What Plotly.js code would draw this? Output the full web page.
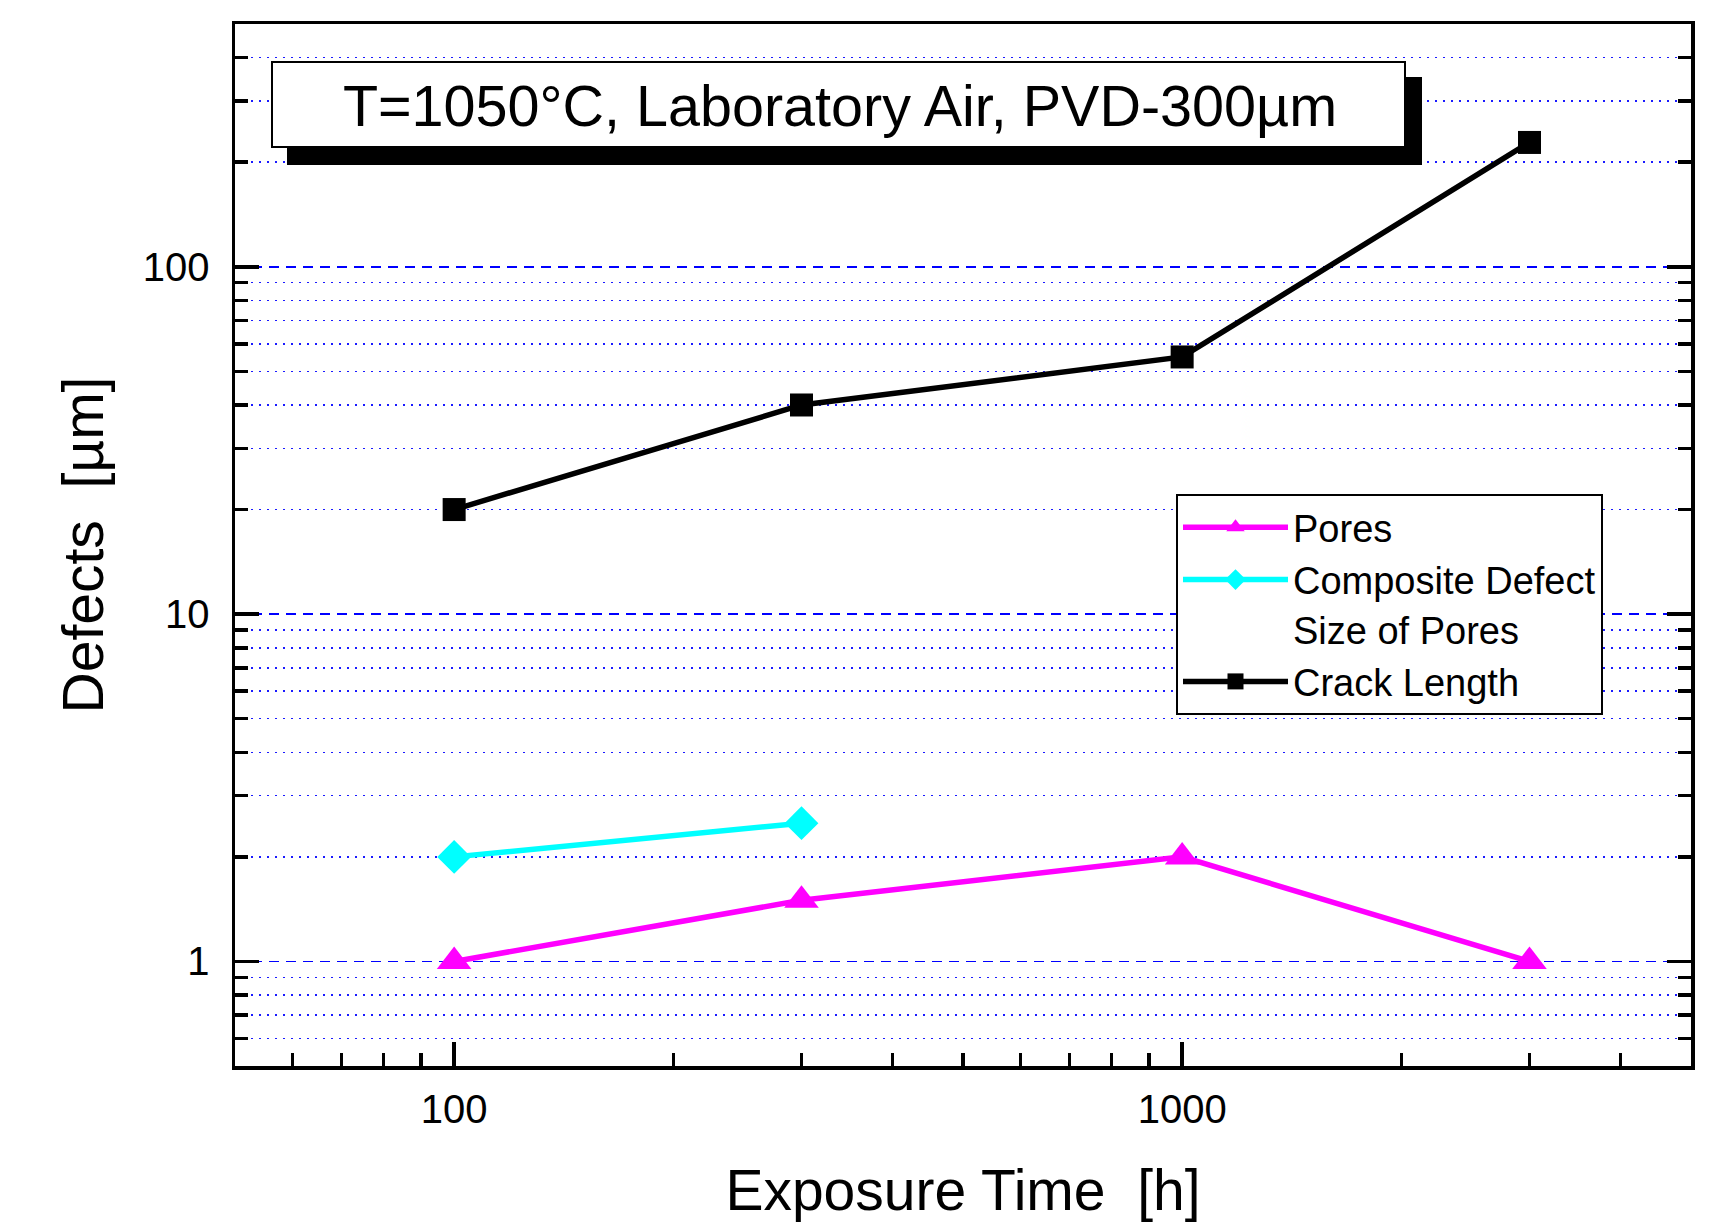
<!DOCTYPE html>
<html><head><meta charset="utf-8">
<script src="https://cdn.plot.ly/plotly-3.0.1.min.js"></script>
<style>html,body{margin:0;padding:0;background:#fff}</style>
</head><body><div id="chart" style="width:1727px;height:1230px"></div>
<script>
// ---- data ----
const exposureHours = [100, 300, 1000, 3000];
const poresSize = [1, 1.5, 2, 1];
const compositeHours = [100, 300];
const compositeSize = [2, 2.5];
const crackLength = [20, 40, 55, 228];

const xTickVals = [100, 1000];
const xTickText = ['100', '1000'];
const xMinorVals = [60, 70, 80, 90, 200, 300, 400, 500, 600, 700, 800, 900, 2000, 3000, 4000];
const yTickVals = [1, 10, 100];
const yTickText = ['1', '10', '100'];
const yMinorVals = [0.6, 0.7, 0.8, 0.9, 2, 3, 4, 5, 6, 7, 8, 9, 20, 30, 40, 50, 60, 70, 80, 90, 200, 300, 400];

const titleText = 'T=1050°C, Laboratory Air, PVD-300µm';
const xTitle = 'Exposure Time\u00a0 [h]';
const yTitle = 'Defects\u00a0 [µm]';

// ---- layout geometry ----
const W = 1727, H = 1230;
const M = {l: 235, r: 36, t: 24, b: 164};
const PW = W - M.l - M.r, PH = H - M.t - M.b;
const px = v => (v - M.l) / PW;
const py = v => (H - M.b - v) / PH;
const FONT = 'Liberation Sans, Arial, sans-serif';

const traces = [
  {x: exposureHours, y: poresSize, name: 'Pores', type: 'scatter', mode: 'lines+markers',
   line: {color: '#ff00ff', width: 5.5}, marker: {symbol: 'triangle-up', size: 30, color: '#ff00ff'}},
  {x: compositeHours, y: compositeSize, name: 'Composite Defect<br>Size of Pores', type: 'scatter', mode: 'lines+markers',
   line: {color: '#00ffff', width: 5.5}, marker: {symbol: 'diamond', size: 26, color: '#00ffff'}},
  {x: exposureHours, y: crackLength, name: 'Crack Length', type: 'scatter', mode: 'lines+markers',
   line: {color: '#000000', width: 5.5}, marker: {symbol: 'square', size: 23, color: '#000000'}}
];

const layout = {
  width: W, height: H,
  margin: M,
  paper_bgcolor: '#ffffff', plot_bgcolor: '#ffffff',
  font: {family: FONT, color: '#000'},
  showlegend: true,
  title: {text: titleText, font: {size: 57.5, family: FONT, color: '#000'},
          xref: 'paper', yref: 'paper', x: px(840), y: py(106), xanchor: 'center', yanchor: 'middle'},
  xaxis: {
    type: 'log', range: [Math.log10(50), Math.log10(5000)],
    tickmode: 'array', tickvals: xTickVals, ticktext: xTickText,
    ticks: 'inside', ticklen: 24, tickwidth: 3.5, tickcolor: '#000',
    showline: true, linewidth: 3.5, linecolor: '#000', mirror: true,
    showgrid: false, zeroline: false,
    tickfont: {size: 40, family: FONT}, ticklabelstandoff: 5,
    minor: {tickmode: 'array', tickvals: xMinorVals, ticks: 'inside', ticklen: 13, tickwidth: 3.5, tickcolor: '#000', showgrid: false},
    title: {text: xTitle, font: {size: 57, family: FONT}, standoff: 41}
  },
  yaxis: {
    type: 'log', range: [Math.log10(0.5), Math.log10(500)],
    tickmode: 'array', tickvals: yTickVals, ticktext: yTickText,
    ticks: 'inside', ticklen: 24, tickwidth: 3.5, tickcolor: '#000',
    showline: true, linewidth: 3.5, linecolor: '#000', mirror: 'ticks',
    showgrid: true, gridcolor: '#0000ff', gridwidth: 1.5, griddash: '10px,7px',
    zeroline: false,
    tickfont: {size: 40, family: FONT}, ticklabelstandoff: 14,
    minor: {tickmode: 'array', tickvals: yMinorVals, ticks: 'inside', ticklen: 13, tickwidth: 3.5, tickcolor: '#000',
            showgrid: true, gridcolor: '#1a1aff', gridwidth: 1.5, griddash: '2px,6px'},
    title: {text: yTitle, font: {size: 57, family: FONT}, standoff: 22}
  },
  legend: {
    x: px(1176), y: py(494), xanchor: 'left', yanchor: 'top',
    bgcolor: '#ffffff', bordercolor: '#000', borderwidth: 2,
    font: {size: 38, family: FONT, color: '#000'},
    valign: 'top', itemwidth: 105, tracegroupgap: 0
  },
  shapes: [
    {type: 'rect', xref: 'paper', yref: 'paper', x0: px(287), x1: px(1422), y0: py(165), y1: py(77),
     fillcolor: '#000', line: {width: 0}, layer: 'above'},
    {type: 'rect', xref: 'paper', yref: 'paper', x0: px(272), x1: px(1405), y0: py(147), y1: py(62),
     fillcolor: '#fff', line: {width: 2, color: '#000'}, layer: 'above'}
  ]
};

Plotly.newPlot('chart', traces, layout, {displayModeBar: false, staticPlot: true});
</script>
</body></html>
